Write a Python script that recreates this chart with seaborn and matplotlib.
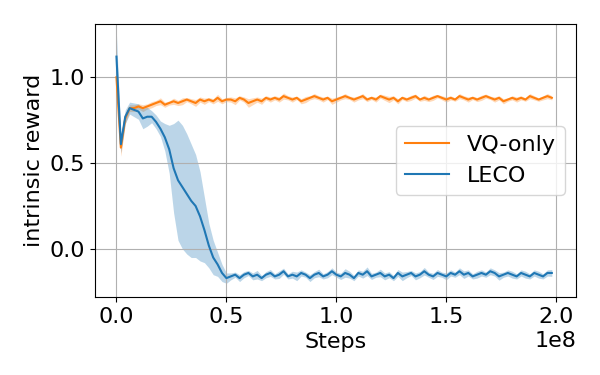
import numpy as np
import pandas as pd
import seaborn as sns
import matplotlib
matplotlib.use("Agg")
import matplotlib.pyplot as plt

# training steps, one record every 2M steps
steps = np.arange(100) * 2e6

# mean intrinsic reward per method
leco_mean = [
    1.12, 0.61, 0.77, 0.82, 0.81, 0.80, 0.76, 0.77, 0.77, 0.74,
    0.70, 0.65, 0.58, 0.47, 0.40, 0.36, 0.32, 0.28, 0.25, 0.19,
    0.11, 0.02, -0.05, -0.09, -0.14, -0.17,
    -0.16, -0.15, -0.17, -0.15, -0.14, -0.16, -0.15, -0.17, -0.15, -0.14,
    -0.16, -0.15, -0.13, -0.16, -0.15, -0.16, -0.14, -0.15, -0.17, -0.15,
    -0.14, -0.16, -0.15, -0.13, -0.15, -0.16, -0.14, -0.15, -0.17, -0.14,
    -0.15, -0.13, -0.16, -0.15, -0.14, -0.16, -0.15, -0.17, -0.14, -0.16,
    -0.15, -0.14, -0.16, -0.15, -0.13, -0.15, -0.16, -0.14, -0.15, -0.16,
    -0.14, -0.15, -0.13, -0.15, -0.14, -0.16, -0.15, -0.14, -0.15, -0.13,
    -0.14, -0.16, -0.15, -0.14, -0.15, -0.16, -0.14, -0.15, -0.16, -0.14,
    -0.15, -0.16, -0.14, -0.14,
]
vq_mean = [
    1.00, 0.59, 0.76, 0.82, 0.82, 0.83, 0.82, 0.83, 0.84, 0.85,
    0.86, 0.84, 0.85, 0.86, 0.85, 0.86, 0.87, 0.86, 0.85, 0.87,
    0.86, 0.87, 0.86, 0.88, 0.86, 0.87,
    0.87, 0.86, 0.88, 0.87, 0.85, 0.86, 0.87, 0.86, 0.88, 0.87,
    0.88, 0.87, 0.89, 0.88, 0.87, 0.88, 0.86, 0.87, 0.88, 0.89,
    0.88, 0.87, 0.88, 0.86, 0.87, 0.88, 0.89, 0.88, 0.87, 0.88,
    0.89, 0.87, 0.88, 0.87, 0.89, 0.88, 0.87, 0.88, 0.86, 0.88,
    0.87, 0.88, 0.89, 0.87, 0.88, 0.87, 0.88, 0.89, 0.88, 0.87,
    0.88, 0.87, 0.89, 0.88, 0.87, 0.88, 0.87, 0.88, 0.89, 0.88,
    0.87, 0.88, 0.86, 0.87, 0.88, 0.87, 0.88, 0.87, 0.89, 0.88,
    0.87, 0.88, 0.89, 0.88,
]

# half width of the shaded band (spread over seeds)
leco_err = [
    0.13, 0.05, 0.04, 0.035, 0.04, 0.045, 0.06, 0.055, 0.035, 0.04,
    0.045, 0.08, 0.14, 0.26, 0.35, 0.36, 0.35, 0.33, 0.30, 0.26,
    0.19, 0.13, 0.10, 0.07, 0.05, 0.03,
    0.02, 0.015, 0.02, 0.018, 0.015, 0.02, 0.025, 0.015, 0.018, 0.02,
    0.015, 0.022, 0.018, 0.015, 0.02, 0.025, 0.018, 0.015, 0.02, 0.018,
    0.022, 0.015, 0.018, 0.02, 0.015, 0.018, 0.025, 0.02, 0.015, 0.018,
    0.02, 0.025, 0.018, 0.015, 0.022, 0.02, 0.018, 0.015, 0.02, 0.025,
    0.018, 0.015, 0.02, 0.018, 0.022, 0.015, 0.018, 0.02, 0.015, 0.02,
    0.018, 0.015, 0.02, 0.022, 0.018, 0.015, 0.02, 0.018, 0.015, 0.02,
    0.018, 0.022, 0.015, 0.018, 0.02, 0.015, 0.018, 0.02, 0.015, 0.018,
    0.02, 0.015, 0.018, 0.02,
]
vq_err = [
    0.04, 0.05, 0.03, 0.02, 0.02, 0.015, 0.02, 0.015, 0.018, 0.015,
    0.02, 0.015, 0.012, 0.018, 0.015, 0.02, 0.012, 0.015, 0.02, 0.015,
    0.018, 0.012, 0.015, 0.02, 0.015, 0.012,
    0.015, 0.02, 0.012, 0.015, 0.025, 0.02, 0.015, 0.018, 0.012, 0.015,
    0.012, 0.015, 0.018, 0.012, 0.015, 0.01, 0.015, 0.018, 0.012, 0.015,
    0.012, 0.015, 0.01, 0.018, 0.015, 0.012, 0.015, 0.01, 0.015, 0.012,
    0.015, 0.012, 0.01, 0.015, 0.012, 0.015, 0.018, 0.012, 0.015, 0.01,
    0.012, 0.015, 0.012, 0.01, 0.015, 0.012, 0.015, 0.01, 0.012, 0.015,
    0.012, 0.01, 0.015, 0.012, 0.015, 0.01, 0.012, 0.015, 0.012, 0.01,
    0.015, 0.012, 0.015, 0.01, 0.012, 0.015, 0.012, 0.01, 0.015, 0.012,
    0.01, 0.012, 0.015, 0.012,
]

methods = ["VQ-only", "LECO"]
colors = {"VQ-only": "tab:orange", "LECO": "tab:blue"}

df = pd.concat([
    pd.DataFrame({"Steps": steps, "reward": vq_mean, "err": vq_err, "method": "VQ-only"}),
    pd.DataFrame({"Steps": steps, "reward": leco_mean, "err": leco_err, "method": "LECO"}),
])

plt.rcParams["font.size"] = 16
fig, ax = plt.subplots(figsize=(6, 3.75), dpi=100)

sns.lineplot(data=df, x="Steps", y="reward", hue="method", hue_order=methods,
             palette=colors, linewidth=1.5, ax=ax)
for m in methods:
    sub = df[df["method"] == m]
    ax.fill_between(sub["Steps"], sub["reward"] - sub["err"], sub["reward"] + sub["err"],
                    color=colors[m], alpha=0.3, linewidth=0)

ax.set_xlim(-0.0985e8, 2.09e8)
ax.set_ylim(-0.28, 1.31)
ax.set_yticks([0.0, 0.5, 1.0])
ax.set_xlabel("Steps")
ax.set_ylabel("intrinsic reward")
ax.grid(True)
ax.legend(title=None, loc="center right")

fig.subplots_adjust(left=0.158, right=0.96, top=0.936, bottom=0.208)
fig.savefig("out.png")
